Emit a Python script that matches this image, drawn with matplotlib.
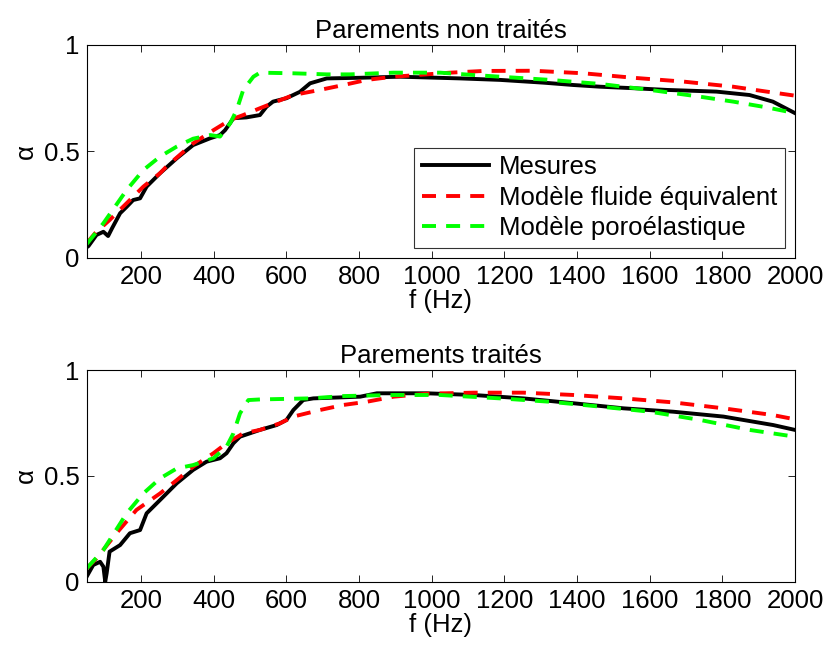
import matplotlib
matplotlib.use("Agg")
import matplotlib.pyplot as plt

plt.rcParams['font.family'] = ['Liberation Sans', 'DejaVu Sans']

# ---- Top panel: Parements non traités ----
f_mes1 = [50, 55, 77, 96, 109, 120, 142, 160, 178, 197, 215, 252, 298, 343, 390, 417, 431, 454, 490, 527, 545, 563, 600, 637, 665, 711, 803, 913, 1078, 1188, 1308, 1390, 1464, 1555, 1647, 1784, 1875, 1939, 2000]
a_mes1 = [0.05, 0.056, 0.108, 0.123, 0.103, 0.14, 0.21, 0.24, 0.272, 0.28, 0.335, 0.398, 0.468, 0.53, 0.562, 0.577, 0.6, 0.656, 0.66, 0.671, 0.71, 0.734, 0.75, 0.78, 0.82, 0.843, 0.846, 0.851, 0.843, 0.836, 0.823, 0.812, 0.804, 0.797, 0.789, 0.781, 0.765, 0.734, 0.68]

f_fe1 = [50, 73, 113, 160, 206, 252, 270, 343, 399, 445, 481, 527, 573, 619, 692, 757, 821, 895, 986, 1051, 1142, 1280, 1418, 1555, 1693, 1830, 1922, 2000]
a_fe1 = [0.069, 0.116, 0.178, 0.257, 0.335, 0.398, 0.43, 0.538, 0.6, 0.648, 0.671, 0.703, 0.734, 0.765, 0.789, 0.812, 0.836, 0.851, 0.862, 0.87, 0.878, 0.879, 0.867, 0.846, 0.828, 0.804, 0.781, 0.762]

f_pe1 = [50, 96, 160, 206, 252, 298, 343, 390, 417, 445, 463, 481, 509, 527, 619, 711, 775, 895, 1023, 1115, 1188, 1326, 1464, 1601, 1739, 1830, 1922, 2000]
a_pe1 = [0.065, 0.163, 0.319, 0.413, 0.476, 0.523, 0.56, 0.577, 0.57, 0.632, 0.695, 0.789, 0.851, 0.87, 0.867, 0.862, 0.862, 0.87, 0.87, 0.859, 0.851, 0.836, 0.817, 0.789, 0.757, 0.734, 0.707, 0.68]

# ---- Bottom panel: Parements traités ----
f_mes2 = [50, 68, 87, 96, 101, 105, 113, 142, 169, 197, 215, 252, 298, 343, 380, 417, 435, 454, 472, 527, 573, 600, 619, 646, 674, 803, 849, 913, 986, 1115, 1252, 1390, 1528, 1665, 1803, 1940, 2000]
a_mes2 = [0.024, 0.079, 0.094, 0.071, 0.0, 0.04, 0.142, 0.173, 0.229, 0.244, 0.323, 0.386, 0.465, 0.528, 0.567, 0.583, 0.607, 0.654, 0.685, 0.717, 0.74, 0.764, 0.811, 0.858, 0.866, 0.874, 0.89, 0.89, 0.89, 0.882, 0.866, 0.843, 0.819, 0.803, 0.78, 0.74, 0.717]

f_fe2 = [50, 77, 132, 187, 252, 298, 343, 399, 435, 481, 527, 582, 619, 692, 757, 821, 895, 986, 1115, 1252, 1390, 1528, 1665, 1803, 1940, 2000]
a_fe2 = [0.063, 0.11, 0.229, 0.339, 0.417, 0.48, 0.543, 0.607, 0.654, 0.701, 0.717, 0.748, 0.78, 0.811, 0.835, 0.85, 0.874, 0.888, 0.893, 0.893, 0.882, 0.866, 0.847, 0.819, 0.787, 0.767]

f_pe2 = [50, 96, 160, 206, 252, 298, 343, 399, 435, 454, 472, 495, 527, 665, 757, 895, 1023, 1188, 1326, 1464, 1601, 1739, 1875, 2000]
a_pe2 = [0.063, 0.15, 0.323, 0.417, 0.488, 0.535, 0.551, 0.583, 0.638, 0.701, 0.795, 0.858, 0.861, 0.866, 0.877, 0.882, 0.882, 0.866, 0.85, 0.827, 0.803, 0.764, 0.717, 0.685]

titles = ['Parements non traités', 'Parements traités']
legend_labels = ['Mesures', 'Modèle fluide équivalent', 'Modèle poroélastique']
xticks = [200, 400, 600, 800, 1000, 1200, 1400, 1600, 1800, 2000]
yticks = [0, 0.5, 1]
ytick_labels = ['0', '0.5', '1']

fig = plt.figure(figsize=(8.24, 6.48), dpi=100)
ax1 = fig.add_axes([0.1052, 0.6019, 0.8596, 0.3287])
ax2 = fig.add_axes([0.1052, 0.1023, 0.8596, 0.3267])

fs = 18.5
lw = 2.8
dash = (0, (3.6, 2.6))
panels = [(ax1, f_mes1, a_mes1, f_fe1, a_fe1, f_pe1, a_pe1),
          (ax2, f_mes2, a_mes2, f_fe2, a_fe2, f_pe2, a_pe2)]
for i, (ax, fm, am, ff, af, fp, ap) in enumerate(panels):
    l1, = ax.plot(fm, am, color='black', lw=lw, label=legend_labels[0])
    l2, = ax.plot(ff, af, color='#ff0000', lw=lw, ls=dash, label=legend_labels[1])
    l3, = ax.plot(fp, ap, color='#00ff00', lw=lw, ls=dash, label=legend_labels[2])
    ax.set_xlim(50, 2000)
    ax.set_ylim(0, 1)
    ax.set_xticks(xticks)
    ax.set_xticklabels([str(t) for t in xticks])
    ax.set_yticks(yticks)
    ax.set_yticklabels(ytick_labels)
    ax.tick_params(direction='in', top=True, right=True, labelsize=fs, length=5, width=0.6, pad=5)
    for s in ax.spines.values():
        s.set_linewidth(0.8)
    ax.set_title(titles[i], fontsize=fs, pad=5)
    ax.set_xlabel('f (Hz)', fontsize=fs, labelpad=0)
    ax.set_ylabel('α', fontsize=fs, labelpad=4)
    if i == 0:
        leg = ax.legend(handles=[l1, l2, l3], loc='lower right', bbox_to_anchor=(0.9859, 0.047),
                        fontsize=fs, frameon=True, fancybox=False, edgecolor='black',
                        handlelength=2.6, handletextpad=0.4, borderpad=0.3, labelspacing=0.25,
                        borderaxespad=0)
        leg.get_frame().set_linewidth(0.8)

fig.savefig('out.png', dpi=100, facecolor='white')
